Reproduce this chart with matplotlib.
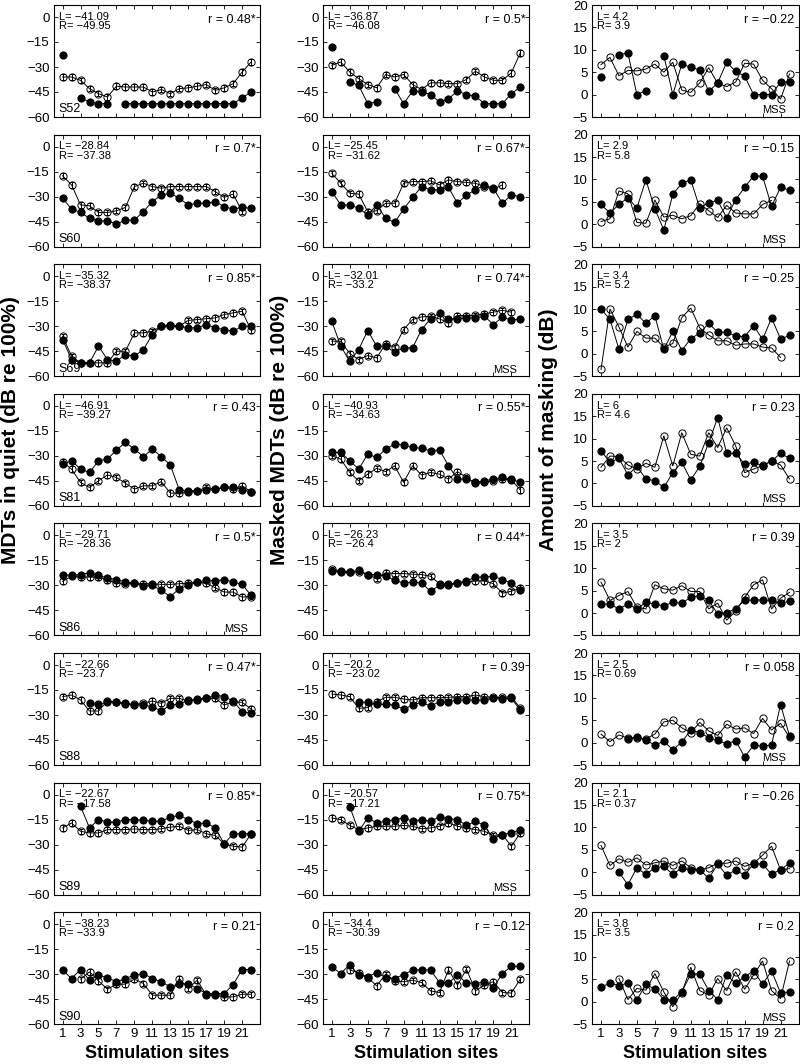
import numpy as np
import matplotlib
matplotlib.use("Agg")
import matplotlib.pyplot as plt

nan = np.nan
sites = list(range(1, 23))
subjects = ["S52", "S60", "S69", "S81", "S86", "S88", "S89", "S90"]

# ---- MDTs in quiet (open = L, filled = R) ----
S52_quiet_L = [-36, -36, -38, -43, -46, -48, -41.5, -42, -42, -42, -45, -43.5, -46, -43, -42.5, -41.5, -40.5, -44, -42.5, -40, -33, -27]
S52_quiet_R = [-22.5, nan, -48.5, -51, -52, -52, nan, -52, -52, -52, -52, -52, -52, -52, -52, -52, -52, -52, -52, -52, -48.5, -45]
S60_quiet_L = [-17.5, -23, -35, -35.5, -39.5, -39.5, -38.5, -36.5, -24, -22, -24, -25, -24, -24, -24, -24, -24, -27, -30.5, -28.5, -39, nan]
S60_quiet_R = [-31, -37.5, -39.5, -43, -44.5, -44.5, -46.5, -44.2, -44, -39, -33, -29, -28, -31, -35, -34, -34, -33, -36, -37.5, -36.5, -37]
S69_quiet_L = [-36, -48, -52, -52, -52, -52, -45, -45, -34, -34, -33, -30, -30, -30, -26.5, -26, -25.5, -25, -23, -22, -21, -32.5]
S69_quiet_R = [-38, -50, -52, -52, -42, -50, -51, -47, -48, -44, -35, -30, -29, -30, -31, -31, -29, -31, -32, -33, -30, -30]
S81_quiet_L = [-33.7, -38, -46, -49, -45, -41.5, -43, -46.5, -50, -48, -48, -45.5, -52.4, -52.4, -52, -51, -49, -50, -49, -50, -48, -51.6]
S81_quiet_R = [-35, -33, -38, -40, -33, -32, -26.5, -22, -26, -30.5, -26, -30.5, -35.5, -50.5, -51, -51, -50.5, -50, -49, -48.5, -50.5, -51.5]
S86_quiet_L = [-27.6, -24.5, -25, -25, -25, -27, -28.6, -29, -28.6, -29, -29, -29.4, -29.4, -29, -28.6, -28, -28.6, -31.4, -34, -34, -37, -36.7]
S86_quiet_R = [-23.5, -24, -23.5, -22.4, -24, -25.5, -26.5, -28, -28.6, -30.6, -30, -33, -36.7, -32, -30, -28, -27, -27.3, -26.5, -28, -29.4, -36]
S88_quiet_L = [-19, -18, -21, -27.6, -27.6, -21.6, -22.4, -23.6, -23.6, -23, -21.6, -23, -20, -20, -21.6, -20.4, -20, -20, -24, -22, -22.4, -26.4]
S88_quiet_R = [nan, nan, nan, -23, -23.6, -22.4, -22, -23, -24, -24, -25, -27.6, -24, -23.6, -21, -21, -20, -18, -19, -21.6, -28, -29]
S89_quiet_L = [-20, -17, -22, -23, -23, -21, -21, -21, -20.6, -21, -21, -20.5, -19.5, -19, -21.5, -21, -23.5, -24.5, -29.5, -31, -31.5, -23.5]
S89_quiet_R = [nan, nan, -7, -20, -15, -16.5, -16.5, -15, -15, -15.5, -16, -16, -13.5, -12.5, -15, -17.5, -17, -20, -29.5, -23.5, -23.5, -23.5]
S90_quiet_L = [nan, nan, -33, -28.6, -34, -39, -36, -36, -33, -35.6, -42.6, -42.6, -42.6, -32.6, -38.6, -33.6, -42.6, -42.6, -43.6, -43.6, -42, -42]
S90_quiet_R = [-27.6, -32.6, -27.2, -33.6, -30.6, -32, -34.6, -32.6, -30.6, -29.6, -32.6, -34.6, -37.6, -35.6, -36, -38.6, -41.6, -41.6, -41.6, -36.2, -27.2, -27.2]

# ---- Masked MDTs ----
S52_masked_L = [-29, -27, -33, -37, -40.5, -42.5, -34.5, -36, -34.5, -40.5, -43.5, -39.5, -39.5, -40, -40, -37.5, -32.5, -36, -38, -38, -33.5, -21.5]
S52_masked_R = [-18, nan, -39, -41, -52, -51, nan, -43, -52, -44.5, -45, -46.5, -51, -49, -44.5, -46.5, -47.5, -52, -52, -52, -46, -42]
S60_masked_L = [-16, -22, -28, -28.5, -39, -38.5, -34, -34, -22, -21, -21, -20.5, -23, -20, -21, -21.5, -22, -24, -25.5, -23, nan, nan]
S60_masked_R = [-27, -35, -35, -37, -41, -35, -43, -45.5, -37.5, -30.5, -24, -26, -26, -24.5, -34, -29, -26, -23, -25, -34, -29, -30]
S69_masked_L = [-39, -39, -46.4, -50, -47.6, -49, -40.6, -42.6, -32, -26, -24.4, -24, -25.6, -28, -23.6, -23.6, -23.4, -22.6, -21.6, -20.4, -21.6, nan]
S69_masked_R = [-27, -42, -51, -44, -32.6, -42, -42, -45.6, -43, -43, -32, -25.6, -22, -25.6, -25.6, -25, -25, -24, -29, -24.6, -26.4, -25.6]
S81_masked_L = [-30, -32, -40, -45, -41, -37.5, -39.5, -36, -46, -36, -41.5, -40, -41, -44, -39.5, -43, -46.5, -46, -45, -44, -44.5, -50.5]
S81_masked_R = [-28, -28, -33, -38, -29, -31, -26, -23, -23.5, -25, -25.5, -27, -26.5, -36, -44, -44, -46, -45, -44, -43, -44, -46]
S86_masked_L = [-20.4, -21.2, -21.8, -21.8, -23.5, -26, -22.4, -22.9, -22.9, -23.3, -23.5, -24.5, -29, -29, -28.6, -28, -27.3, -27.3, -29, -34.7, -33.5, -31.6]
S86_masked_R = [-21.4, -22.2, -22.2, -20.8, -23.5, -23.5, -24.3, -27, -28.6, -28, -28.6, -33.5, -30, -30, -28.6, -27.3, -25, -25, -24.5, -26.5, -28.6, -33]
S88_masked_L = [-17.4, -18, -19, -26, -25.6, -22, -19.4, -19.4, -20.4, -21, -19.6, -19.6, -19.6, -19.4, -19, -19, -18, -19, -19.4, -19.4, -19, -26]
S88_masked_R = [nan, nan, nan, -22.4, -22.4, -23.6, -23.6, -24, -26.6, -24, -22.4, -24.6, -22, -22, -21, -21, -21, -21, -20, -20.5, -20, -27]
S89_masked_L = [-14, -15, -18.5, -21, -20, -19, -19, -19, -18.5, -19, -20.5, -20, -19, -17, -19, -20, -21, -22, -24.5, -24, -31, -23]
S89_masked_R = [nan, nan, -7.2, -22, -14, -17, -16, -15, -14, -16, -15, -16, -13.5, -14.5, -15, -18.5, -16, -18.5, -26.5, -24, -23, -21]
S90_masked_L = [nan, nan, -27.5, -29, -32, -37, -30, -34, -34.5, -33.6, -35, -40, -41, -27.4, -36.5, -27, -40, -36.6, -34.5, -41, -41.3, -33]
S90_masked_R = [-25.6, -29.6, -24.2, -30.6, -31.6, -29, -32, -32.6, -30.2, -27.6, -27.2, -27.6, -35, -35.2, -30.6, -35.2, -35.6, -34.6, -38, -29.6, -25.2, -25.2]

# ---- Amount of masking ----
S52_amount_L = [6.7, 8.3, 4.2, 5.4, 5.3, 5.7, 6.8, 5, 7.2, 1, 0.5, 2.6, 6, 2.5, 1.8, 2.8, 7, 6.8, 3.2, 1.3, -1, 4.6]
S52_amount_R = [3.9, nan, 8.9, 9.3, 0, 0.9, nan, 8.7, 0, 6.8, 6.1, 5.5, 0.7, 2.6, 7.2, 5.2, 4.1, 0, 0, 0, 2.8, 2.8]
S60_amount_L = [0.6, 1.2, 7.4, 6.8, 0.4, 0.2, 5.4, 1.6, 2, 1.2, 1.9, 4.6, 3, 1.5, 4.2, 2.5, 2.3, 2.3, 4.4, 5.3, nan, nan]
S60_amount_R = [4.4, 2.5, 4.4, 5.9, 3.6, 9.9, 3.4, -1.3, 6.7, 9.1, 9.9, 3.6, 4.8, 5.3, 1.4, 5.5, 8.2, 10.8, 10.7, 4, 8.2, 7.6]
S69_amount_L = [-3.5, 10, 6, 1.5, 5, 3.5, 3.5, 1.5, 2.3, 8.1, 10.2, 5.8, 4.2, 2.9, 2.9, 1.9, 2.2, 2.2, 1.5, 1.3, -0.8, nan]
S69_amount_R = [10, 7.7, 1, 7.7, 8.8, 6.8, 8.5, 1, 5, 0.7, 3.4, 4.6, 6.8, 4.8, 4.8, 4, 3.8, 6.3, 3.2, 8, 3.3, 4.1]
S81_amount_L = [3.6, 6.1, 6, 4.1, 3.2, 4.5, 3.6, 10.6, 3.9, 11.3, 6.5, 6.1, 11.3, 8, 12.4, 8.4, 2.4, 3.2, 4, 5, 4.1, 1]
S81_amount_R = [7.3, 4.7, 5.6, 1.9, 3.8, 1, 0.6, -0.9, 2.4, 4.7, 0.8, 3.8, 9.1, 14.7, 6.7, 6.7, 4.3, 4.7, 3.9, 5, 6.7, 5.6]
S86_amount_L = [6.9, 2.8, 3.9, 4.8, 1.3, 0.9, 6.3, 5.4, 5.1, 6.1, 4.8, 4.8, 0.9, 2.2, -1.6, 0.4, 3.5, 6.3, 7.4, 0.9, 3.3, 4.6]
S86_amount_R = [2, 2, 0.9, 2, 0.9, 2.4, 2, 1.6, 2.4, 2.2, 3.5, 3.9, 2.8, -0.2, 0.1, 0.9, 2.9, 2.9, 2.9, 2.8, 2.2, 2.6]
S88_amount_L = [1.9, 0.2, 1.7, 1.0, 1.0, 0.8, 1.9, 4.6, 5.0, 3.3, 2.2, 4.5, 2.6, 1.6, 4.1, 3.0, 3.3, 2.0, 5.4, 2.8, 4.3, 1.2]
S88_amount_R = [nan, nan, nan, 0.8, 1.3, 0.6, -0.6, 0.3, -1.6, 0.1, 2.8, 2.2, 1.1, 0.5, -0.3, 0.4, -3.2, -0.6, -0.8, -0.5, 8.5, 1.5]
S89_amount_L = [6, 1.5, 3, 2.2, 3.2, 1.6, 2.1, 2.5, 1.5, 2.5, 1, 0.5, 1, 2, 2, 2.5, 1.3, 2, 3.8, 5.8, 0.5, 0.8]
S89_amount_R = [nan, nan, 0, -2.8, 1, -0.5, 1, 1.3, -0.5, 1, 0.4, 0.6, -1.4, 1.8, -0.7, 0.5, -0.7, 1.9, 1.8, -0.5, 0.6, 2]
S90_amount_L = [nan, nan, 5.2, 0.5, 3, 2.6, 6.3, 2.2, -1.1, 2, 7.7, 2.5, 1.5, 5.2, 2.5, 6.7, 2.8, 6, 9.1, 2.5, 0.7, 9.1]
S90_amount_R = [3.2, 4.2, 3.6, 4.2, 0.4, 3.9, 2.8, 0.5, 0.4, 2.2, 6.2, 6.2, 2.5, 0.5, 6, 4.1, 5.6, 6.9, 3.9, 6.9, 2, 2.2]

# ---- annotation texts ----
quiet_LR = [("−41.09", "−49.95"), ("−28.84", "−37.38"), ("−35.32", "−38.37"), ("−46.91", "−39.27"),
            ("−29.71", "−28.36"), ("−22.66", "−23.7"), ("−22.67", "−17.58"), ("−38.23", "−33.9")]
masked_LR = [("−36.87", "−46.08"), ("−25.45", "−31.62"), ("−32.01", "−33.2"), ("−40.93", "−34.63"),
             ("−26.23", "−26.4"), ("−20.2", "−23.02"), ("−20.57", "−17.21"), ("−34.4", "−30.39")]
amount_LR = [("4.2", "3.9"), ("2.9", "5.8"), ("3.4", "5.2"), ("6", "4.6"),
             ("3.5", "2"), ("2.5", "0.69"), ("2.1", "0.37"), ("3.8", "3.5")]
quiet_r = ["0.48*", "0.7*", "0.85*", "0.43", "0.5*", "0.47*", "0.85*", "0.21"]
masked_r = ["0.5*", "0.67*", "0.74*", "0.55*", "0.44*", "0.39", "0.75*", "−0.12"]
amount_r = ["−0.22", "−0.15", "−0.25", "0.23", "0.39", "0.058", "−0.26", "0.2"]
mss_panels = [(0, 2), (1, 2), (2, 1), (3, 2), (4, 0), (5, 2), (6, 1), (7, 2)]

g = globals()
plt.rcParams['font.family'] = ['Liberation Sans', 'DejaVu Sans']

W, H = 800, 1064
fig = plt.figure(figsize=(W / 100, H / 100), dpi=100)

col_left = [53.6, 322.8, 592.0]
col_w = 206.5
row_step = 129.6
row_top0 = 5.0
ax_h = 112.0
OPEN_ERR = 1.6

kinds = ["quiet", "masked", "amount"]
LR_text = [quiet_LR, masked_LR, amount_LR]
r_text = [quiet_r, masked_r, amount_r]

for i, subj in enumerate(subjects):
    top = row_top0 + row_step * i
    for j, kind in enumerate(kinds):
        ax = fig.add_axes([col_left[j] / W, 1 - (top + ax_h) / H, col_w / W, ax_h / H])
        L = g[f"{subj}_{kind}_L"]
        R = g[f"{subj}_{kind}_R"]
        ax.plot(sites, R, '-o', color='black', lw=0.7, ms=5.2, mfc='black', mec='black', mew=0.7, zorder=3)
        if j < 2:
            ax.errorbar(sites, L, yerr=OPEN_ERR, fmt='-o', color='black', lw=0.7, ms=5.2,
                        mfc='none', mec='black', mew=0.7, elinewidth=0.7, capsize=1.2, zorder=4)
        else:
            ax.plot(sites, L, '-o', color='black', lw=0.7, ms=5.2, mfc='none', mec='black', mew=0.7, zorder=4)
        ax.set_xlim(0, 23)
        if j < 2:
            ax.set_ylim(-60, 7.2)
            ax.set_yticks([0, -15, -30, -45, -60])
        else:
            ax.set_ylim(-5, 20)
            ax.set_yticks([-5, 0, 5, 10, 15, 20])
        ax.set_xticks(range(1, 22, 2))
        ax.tick_params(direction='in', length=3, width=0.6, top=True, right=True,
                       labelsize=9.5, pad=3)
        if i < len(subjects) - 1:
            ax.set_xticklabels([])
        for s in ax.spines.values():
            s.set_linewidth(0.8)
        l, r = LR_text[j][i]
        ax.text(0.025, 0.94, f"L= {l}\nR= {r}", transform=ax.transAxes, ha='left', va='top',
                fontsize=8, linespacing=0.92)
        ax.text(0.98, 0.87, f"r = {r_text[j][i]}", transform=ax.transAxes, ha='right', va='center',
                fontsize=9)
        if j == 0:
            ax.text(0.025, 0.015, subj, transform=ax.transAxes, ha='left', va='bottom', fontsize=9)
        if (i, j) in mss_panels:
            ax.text(0.94, 0.015, "MSS", transform=ax.transAxes, ha='right', va='bottom', fontsize=8)
        if i == len(subjects) - 1:
            ax.set_xlabel("Stimulation sites", fontsize=13, fontweight='bold', labelpad=3)

ylabels = ["MDTs in quiet (dB re 100%)", "Masked MDTs (dB re 100%)", "Amount of masking (dB)"]
label_yc = 430.0
for j, lab in enumerate(ylabels):
    fig.text((col_left[j] - 43) / W, 1 - label_yc / H, lab,
             rotation=90, ha='center', va='center', fontsize=15, fontweight='bold')

fig.savefig("out.png", dpi=100)
